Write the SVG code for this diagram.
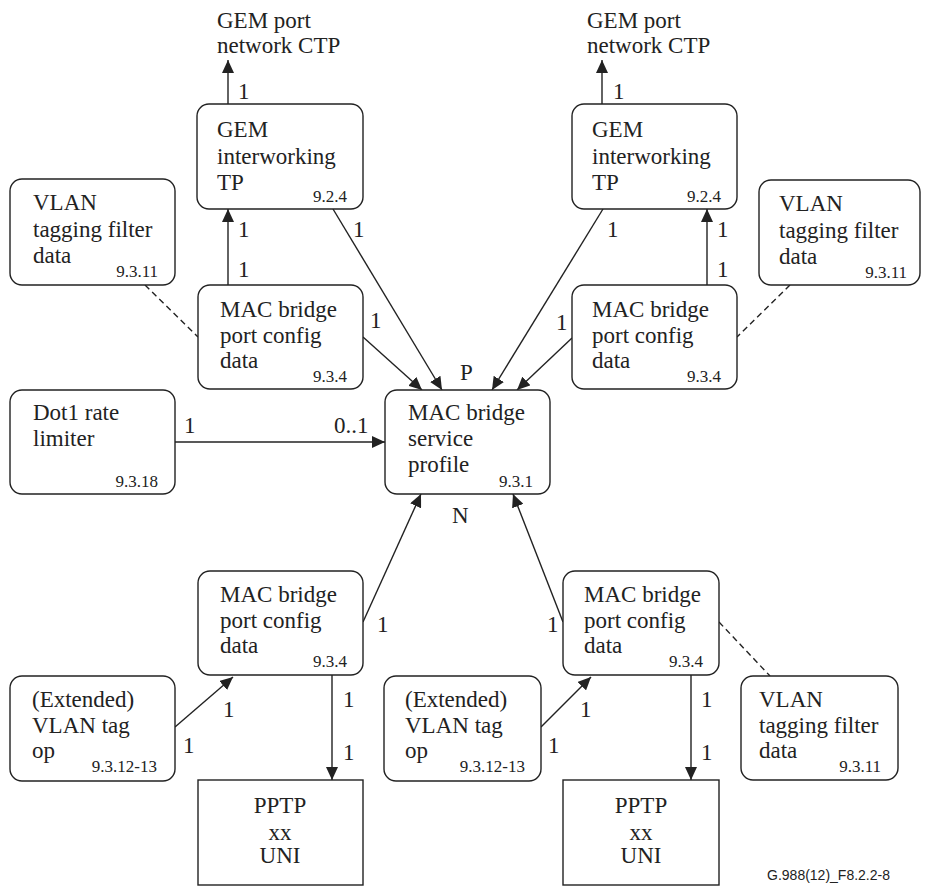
<svg xmlns="http://www.w3.org/2000/svg" width="930" height="890" viewBox="0 0 930 890">
<style>
.box{fill:#fff;stroke:#222;stroke-width:1.4}
.t{font-family:"Liberation Serif","Times New Roman",serif;font-size:23px;fill:#222}
.s{font-family:"Liberation Serif","Times New Roman",serif;font-size:17px;fill:#222;text-anchor:end}
.c{text-anchor:middle}
.ln{stroke:#222;stroke-width:1.4;fill:none}
.arr{marker-end:url(#ah)}
.dash{stroke-dasharray:6,4}
.id{font-family:"Liberation Sans",Arial,sans-serif;font-size:14px;fill:#222;text-anchor:end}
</style>
<defs>
<marker id="ah" markerUnits="userSpaceOnUse" markerWidth="14" markerHeight="12" refX="13" refY="6" orient="auto">
<path d="M0,0 L13,6 L0,12 Z" fill="#222"/>
</marker>
</defs>
<rect width="930" height="890" fill="#fff"/>

<g id="connectors">
<line class="ln arr" x1="228" y1="104" x2="228" y2="60"/>
<line class="ln arr" x1="602" y1="104" x2="602" y2="60"/>
<line class="ln arr" x1="228" y1="285" x2="228" y2="209"/>
<line class="ln arr" x1="707" y1="285" x2="707" y2="209"/>
<line class="ln dash" x1="145" y1="285" x2="198" y2="337"/>
<line class="ln dash" x1="790" y1="285" x2="737" y2="337"/>
<line class="ln arr" x1="363" y1="337" x2="422" y2="390"/>
<line class="ln arr" x1="333" y1="209" x2="442" y2="390"/>
<line class="ln arr" x1="603" y1="209" x2="492" y2="390"/>
<line class="ln arr" x1="572" y1="338" x2="517" y2="390"/>
<line class="ln arr" x1="175" y1="442" x2="385" y2="442"/>
<line class="ln arr" x1="363" y1="622" x2="421" y2="494"/>
<line class="ln arr" x1="563" y1="622" x2="513" y2="494"/>
<line class="ln dash" x1="719" y1="622" x2="770" y2="676"/>
<line class="ln arr" x1="175" y1="727" x2="233" y2="677"/>
<line class="ln arr" x1="541" y1="727" x2="591" y2="677"/>
<line class="ln arr" x1="332" y1="675" x2="332" y2="780"/>
<line class="ln arr" x1="691" y1="675" x2="691" y2="780"/>
<text class="t" x="238" y="99">1</text>
<text class="t" x="613" y="99">1</text>
<text class="t" x="238" y="237">1</text>
<text class="t" x="238" y="277">1</text>
<text class="t" x="717" y="237">1</text>
<text class="t" x="717" y="277">1</text>
<text class="t" x="353" y="237">1</text>
<text class="t" x="607" y="237">1</text>
<text class="t" x="370" y="328">1</text>
<text class="t" x="556" y="330">1</text>
<text class="t" x="460" y="380">P</text>
<text class="t" x="452" y="523">N</text>
<text class="t" x="184" y="433">1</text>
<text class="t" x="334" y="433">0..1</text>
<text class="t" x="377" y="632">1</text>
<text class="t" x="547" y="632">1</text>
<text class="t" x="223" y="717">1</text>
<text class="t" x="183" y="753">1</text>
<text class="t" x="580" y="717">1</text>
<text class="t" x="548" y="753">1</text>
<text class="t" x="343" y="707">1</text>
<text class="t" x="343" y="760">1</text>
<text class="t" x="701" y="707">1</text>
<text class="t" x="701" y="760">1</text>
</g>

<g id="gem-ctp-left">
<text class="t" x="217" y="28">GEM port</text>
<text class="t" x="217" y="53">network CTP</text>
</g>
<g id="gem-ctp-right">
<text class="t" x="587" y="28">GEM port</text>
<text class="t" x="587" y="53">network CTP</text>
</g>

<g id="gem-iwtp-left">
<rect class="box" x="197" y="104" width="166" height="105" rx="12"/>
<text class="t" x="217" y="137">GEM</text>
<text class="t" x="217" y="164">interworking</text>
<text class="t" x="217" y="190">TP</text>
<text class="s" x="347" y="202">9.2.4</text>
</g>
<g id="gem-iwtp-right">
<rect class="box" x="572" y="104" width="165" height="105" rx="12"/>
<text class="t" x="592" y="137">GEM</text>
<text class="t" x="592" y="164">interworking</text>
<text class="t" x="592" y="190">TP</text>
<text class="s" x="721" y="202">9.2.4</text>
</g>

<g id="vlan-filter-left">
<rect class="box" x="10" y="179" width="165" height="106" rx="12"/>
<text class="t" x="33" y="210">VLAN</text>
<text class="t" x="33" y="237">tagging filter</text>
<text class="t" x="33" y="263">data</text>
<text class="s" x="158" y="277">9.3.11</text>
</g>
<g id="vlan-filter-right">
<rect class="box" x="759" y="180" width="161" height="105" rx="12"/>
<text class="t" x="779" y="211">VLAN</text>
<text class="t" x="779" y="238">tagging filter</text>
<text class="t" x="779" y="264">data</text>
<text class="s" x="907" y="278">9.3.11</text>
</g>

<g id="mac-port-ul">
<rect class="box" x="198" y="285" width="165" height="104" rx="12"/>
<text class="t" x="220" y="317">MAC bridge</text>
<text class="t" x="220" y="343">port config</text>
<text class="t" x="220" y="368">data</text>
<text class="s" x="347" y="382">9.3.4</text>
</g>
<g id="mac-port-ur">
<rect class="box" x="572" y="285" width="165" height="104" rx="12"/>
<text class="t" x="592" y="317">MAC bridge</text>
<text class="t" x="592" y="343">port config</text>
<text class="t" x="592" y="368">data</text>
<text class="s" x="721" y="382">9.3.4</text>
</g>

<g id="dot1-rate-limiter">
<rect class="box" x="10" y="390" width="165" height="104" rx="12"/>
<text class="t" x="33" y="420">Dot1 rate</text>
<text class="t" x="33" y="446">limiter</text>
<text class="s" x="158" y="487">9.3.18</text>
</g>

<g id="mac-service-profile">
<rect class="box" x="385" y="390" width="165" height="104" rx="12"/>
<text class="t" x="408" y="420">MAC bridge</text>
<text class="t" x="408" y="446">service</text>
<text class="t" x="408" y="472">profile</text>
<text class="s" x="533" y="487">9.3.1</text>
</g>

<g id="mac-port-ll">
<rect class="box" x="198" y="571" width="165" height="104" rx="12"/>
<text class="t" x="220" y="602">MAC bridge</text>
<text class="t" x="220" y="628">port config</text>
<text class="t" x="220" y="653">data</text>
<text class="s" x="347" y="667">9.3.4</text>
</g>
<g id="mac-port-lr">
<rect class="box" x="563" y="571" width="156" height="104" rx="12"/>
<text class="t" x="584" y="602">MAC bridge</text>
<text class="t" x="584" y="628">port config</text>
<text class="t" x="584" y="653">data</text>
<text class="s" x="703" y="667">9.3.4</text>
</g>

<g id="vlan-tag-op-left">
<rect class="box" x="10" y="676" width="165" height="105" rx="12"/>
<text class="t" x="32" y="707">(Extended)</text>
<text class="t" x="32" y="733">VLAN tag</text>
<text class="t" x="32" y="758">op</text>
<text class="s" x="157" y="772">9.3.12-13</text>
</g>
<g id="vlan-tag-op-right">
<rect class="box" x="384" y="676" width="157" height="105" rx="12"/>
<text class="t" x="405" y="707">(Extended)</text>
<text class="t" x="405" y="733">VLAN tag</text>
<text class="t" x="405" y="758">op</text>
<text class="s" x="525" y="772">9.3.12-13</text>
</g>

<g id="vlan-filter-lr">
<rect class="box" x="741" y="676" width="157" height="104" rx="12"/>
<text class="t" x="759" y="707">VLAN</text>
<text class="t" x="759" y="733">tagging filter</text>
<text class="t" x="759" y="758">data</text>
<text class="s" x="881" y="772">9.3.11</text>
</g>

<g id="pptp-left">
<rect class="box" x="198" y="780" width="165" height="105"/>
<text class="t c" x="280" y="813">PPTP</text>
<text class="t c" x="280" y="840">xx</text>
<text class="t c" x="280" y="863">UNI</text>
</g>
<g id="pptp-right">
<rect class="box" x="563" y="780" width="156" height="105"/>
<text class="t c" x="641" y="813">PPTP</text>
<text class="t c" x="641" y="840">xx</text>
<text class="t c" x="641" y="863">UNI</text>
</g>

<text class="id" x="890" y="880">G.988(12)_F8.2.2-8</text>
</svg>
